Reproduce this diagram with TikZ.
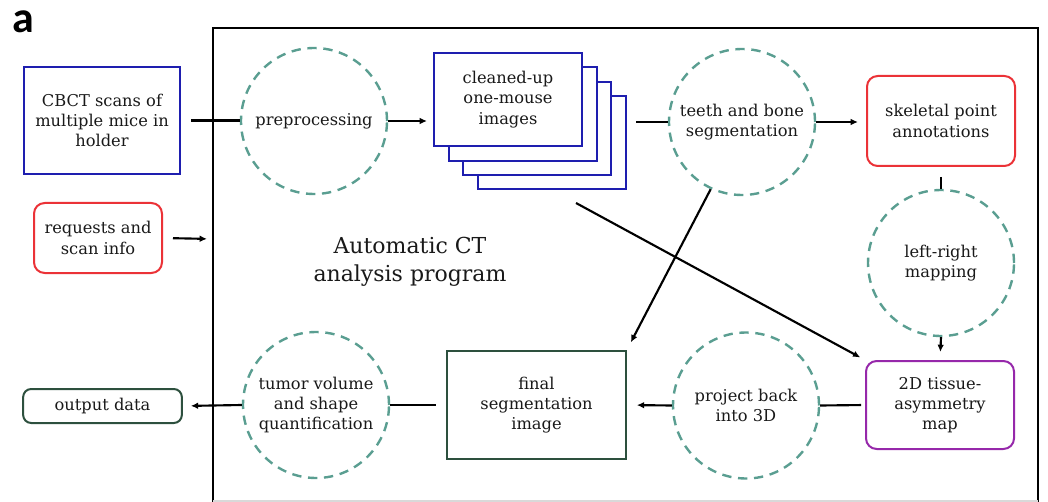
\documentclass[tikz,border=0pt]{standalone}
\usepackage{fontspec}
\setmainfont{DejaVu Serif}
\newfontfamily\labelfont{Carlito}
\usetikzlibrary{arrows.meta}
\definecolor{cblue}{RGB}{30,30,175}
\definecolor{cred}{RGB}{235,50,55}
\definecolor{cgreen}{RGB}{45,80,62}
\definecolor{cteal}{RGB}{90,158,145}
\definecolor{cpurple}{RGB}{150,40,170}
\definecolor{ctext}{RGB}{25,25,25}
\begin{document}
\begin{tikzpicture}[x=0.75pt,y=-0.75pt,
  every node/.style={text=ctext, font=\fontsize{12.2}{15.2}\selectfont, align=center, inner sep=0pt},
  proc/.style={circle, draw=cteal, line width=1.8pt, dash pattern=on 7pt off 5pt, minimum size=109.5pt},
  sqbox/.style={rectangle, draw, line width=1.5pt},
  rbox/.style={rectangle, rounded corners=8pt, draw, line width=1.5pt},
  link/.style={line width=1.6pt, draw=black},
  arr/.style={link, -{Latex[length=5.5pt,width=5pt]}},
]
\useasboundingbox (0,0) rectangle (1048,502);
% frame
\draw[line width=1.6pt] (213,502) -- (213,28) -- (1038,28) -- (1038,502);
\draw[line width=1pt, black!15] (213,501) -- (1038,501);
\coordinate (fin) at (213,239);
\coordinate (cs) at (576,203);

\node[font=\labelfont\bfseries\fontsize{33}{33}\selectfont, text=black, anchor=base] (lbl) at (23,33) {a};

\node[sqbox, draw=cblue, minimum width=117pt, minimum height=80pt] (cbct) at (102,120.5) {CBCT scans of\\multiple mice in\\holder};
\node[rbox, draw=cred, minimum width=96pt, minimum height=52.5pt] (req) at (98,238) {requests and\\scan info};
\node[rbox, draw=cgreen, rounded corners=6pt, minimum width=119pt, minimum height=25.5pt] (out) at (102.5,406) {output data};

\node[proc] (pre) at (314,121) {preprocessing};

\node[sqbox, draw=cblue, fill=white, minimum width=111pt, minimum height=70pt] (clean4) at (552,142.5) {};
\node[sqbox, draw=cblue, fill=white, minimum width=111pt, minimum height=70pt] (clean3) at (537,128.5) {};
\node[sqbox, draw=cblue, fill=white, minimum width=111pt, minimum height=70pt] (clean2) at (522.5,114) {};
\node[sqbox, draw=cblue, fill=white, minimum width=111pt, minimum height=70pt] (clean1) at (508,99.5) {cleaned-up\\one-mouse\\images};

\node[proc] (teeth) at (742,122) {teeth and bone\\segmentation};
\node[rbox, draw=cred, minimum width=111pt, minimum height=67.5pt] (skel) at (941,121) {skeletal point\\annotations};
\node[proc] (lr) at (941,263) {left-right\\mapping};
\node[rbox, draw=cpurple, minimum width=111pt, minimum height=66pt] (tissue) at (940,405) {2D tissue-\\asymmetry\\map};
\node[proc] (proj) at (746,405.5) {project back\\into 3D};
\node[sqbox, draw=cgreen, minimum width=134pt, minimum height=81pt] (final) at (536.5,405) {final\\segmentation\\image};
\node[proc] (tumor) at (316,405) {tumor volume\\and shape\\quantification};

\node[font=\fontsize{16.5}{21}\selectfont] (title) at (410,262) {Automatic CT\\analysis program};

% connectors
\draw[link, shorten <=7.5pt] (cbct.east) -- (pre.west |- cbct.east);
\draw[arr, shorten >=4.5pt] (pre.east) -- (clean1.west |- pre.east);
\draw[link, shorten <=6.75pt] (clean4.east |- teeth.west) -- (teeth.west);
\draw[arr, shorten >=6pt] (teeth.east) -- (skel.west |- teeth.east);
\draw[link, shorten <=7.5pt] (skel.south) -- (lr.north);
\draw[arr, shorten >=6pt] (lr.south) -- (tissue.north);
\draw[link, shorten <=3pt] (tissue.west) -- (proj.east);
\draw[arr, shorten >=7.5pt] (proj.west) -- (final.east);
\draw[link, shorten <=8pt] (final.west) -- (tumor.east);
\draw[arr, shorten >=6pt] (tumor.west) -- (out.east);
\draw[arr, shorten <=7.5pt, shorten >=4.5pt] (req.east) -- (fin);
\draw[arr, shorten >=6.5pt] (teeth.245) -- (final.north east);
\draw[arr, shorten >=4pt] (cs) -- (tissue.north west);
\end{tikzpicture}
\end{document}
